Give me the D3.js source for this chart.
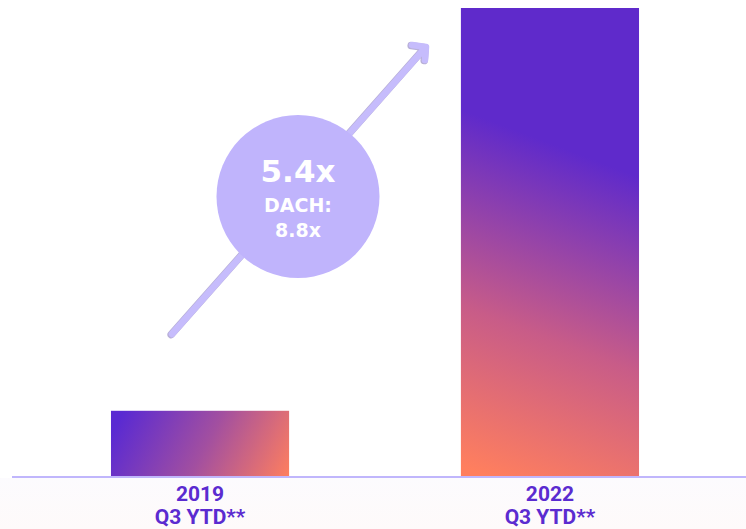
<!DOCTYPE html>
<html>
<head>
<meta charset="utf-8">
<script src="https://cdn.jsdelivr.net/npm/d3@7"></script>
<style>
  html, body { margin: 0; padding: 0; background: #fff; }
  svg { display: block; }
</style>
</head>
<body>
<svg id="chart"></svg>
<script>
// chart data
const years = ["2019", "2022"];
const periods = ["Q3 YTD**", "Q3 YTD**"];
const values = [14.3, 100];   // relative size, 2022 = 100
const growthLabel = "5.4x";
const regionLabel = ["DACH:", "8.8x"];

const width = 746, height = 529;
const baseY = 478, topY = 8;

const svg = d3.select("#chart")
  .attr("width", width)
  .attr("height", height);

const defs = svg.append("defs");

// faint tint under the axis line
const bg = defs.append("linearGradient")
  .attr("id", "bgTint")
  .attr("x1", 0).attr("y1", 0).attr("x2", 0).attr("y2", 1);
bg.append("stop").attr("offset", 0).attr("stop-color", "#fcfbfe");
bg.append("stop").attr("offset", 1).attr("stop-color", "#fefafa");

svg.append("rect")
  .attr("x", 0).attr("y", baseY)
  .attr("width", width).attr("height", height - baseY)
  .attr("fill", "url(#bgTint)");

// scales
const x = d3.scaleBand()
  .domain(years)
  .range([25, 725])
  .paddingInner(0.491)
  .paddingOuter(0.2457);

const y = d3.scaleLinear()
  .domain([0, d3.max(values)])
  .range([baseY, topY]);

// gradients per bar (user space so the colour direction follows the picture)
function barGradient(id, p1, p2, stops) {
  const g = defs.append("linearGradient")
    .attr("id", id)
    .attr("gradientUnits", "userSpaceOnUse")
    .attr("x1", p1[0]).attr("y1", p1[1])
    .attr("x2", p2[0]).attr("y2", p2[1]);
  stops.forEach(s => g.append("stop").attr("offset", s[0]).attr("stop-color", s[1]));
}

const x0 = x(years[0]), x1 = x(years[1]), bw = x.bandwidth();

barGradient("grad0",
  [x0 + 15, y(values[0]) - 5], [x0 + bw - 5, baseY + 10],
  [[0, "#5a2ad2"], [0.5, "#a24fa0"], [1, "#ff7f5e"]]);

barGradient("grad1",
  [x1 + 10, baseY - 8], [x1 + bw * 0.72, y(values[1]) + 150],
  [[0, "#ff7f5e"], [0.45, "#c85c88"], [1, "#5f2acb"]]);

// bars
svg.selectAll(".bar")
  .data(values)
  .enter()
  .append("rect")
  .attr("class", "bar")
  .attr("x", (d, i) => x(years[i]))
  .attr("y", d => y(d))
  .attr("width", x.bandwidth())
  .attr("height", d => baseY - y(d))
  .attr("fill", (d, i) => `url(#grad${i})`);

// baseline
svg.append("line")
  .attr("x1", 12).attr("x2", width)
  .attr("y1", baseY - 1).attr("y2", baseY - 1)
  .attr("stroke", "#c0b6fc")
  .attr("stroke-width", 2);

// category labels
const labels = svg.selectAll(".cat")
  .data(years)
  .enter()
  .append("text")
  .attr("class", "cat")
  .attr("x", d => x(d) + x.bandwidth() / 2)
  .attr("text-anchor", "middle")
  .attr("fill", "#5b2bd0")
  .style("font-family", "Roboto, 'Noto Sans', sans-serif")
  .style("font-weight", 700)
  .style("font-size", "21px");

labels.append("tspan")
  .attr("x", d => x(d) + x.bandwidth() / 2)
  .attr("y", 501)
  .text(d => d);

labels.append("tspan")
  .attr("x", d => x(d) + x.bandwidth() / 2)
  .attr("y", 524)
  .text((d, i) => periods[i]);

// growth arrow
const arrow = svg.append("g")
  .attr("fill", "none")
  .attr("stroke-linecap", "round")
  .attr("stroke-linejoin", "round");

arrow.append("path")
  .attr("d", "M172,334 L425,48 M412,45 L426,47 L425,60")
  .attr("stroke", "#b8b0d8")
  .attr("stroke-width", 7.5)
  .attr("transform", "translate(-0.8,0.6)");

arrow.append("path")
  .attr("d", "M172,334 L425,48 M412,45 L426,47 L425,60")
  .attr("stroke", "#c6bcfc")
  .attr("stroke-width", 6.5);

// bubble
const cx = 298, cy = 196.5, r = 81.5;
svg.append("circle")
  .attr("cx", cx).attr("cy", cy).attr("r", r)
  .attr("fill", "#c0b4fc");

const bubbleText = svg.append("g")
  .attr("text-anchor", "middle")
  .attr("fill", "#fff")
  .style("font-family", "'DejaVu Sans', sans-serif")
  .style("font-weight", 700);

bubbleText.append("text")
  .attr("x", cx).attr("y", 182)
  .style("font-size", "31px")
  .text(growthLabel);

bubbleText.selectAll(".sub")
  .data(regionLabel)
  .enter()
  .append("text")
  .attr("class", "sub")
  .attr("x", cx)
  .attr("y", (d, i) => 212 + i * 25)
  .style("font-size", "19px")
  .text(d => d);
</script>
</body>
</html>
